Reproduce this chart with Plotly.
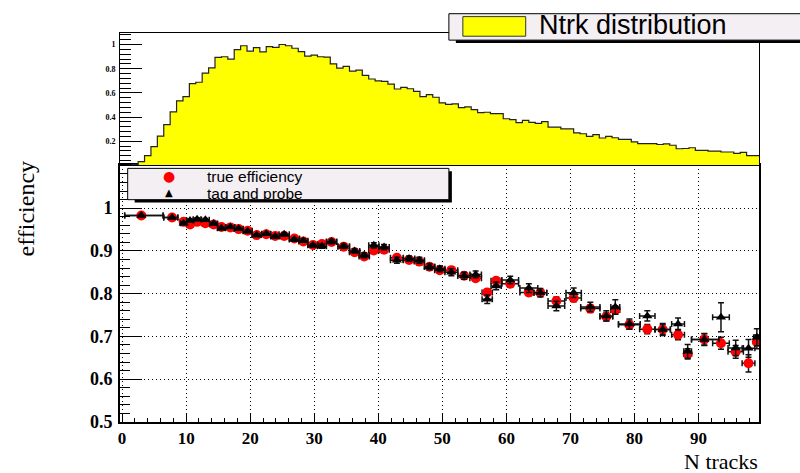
import plotly.graph_objects as go

# ---------------- data ----------------
hist_bins = list(range(1, 100))
hist_vals = [0.0, 0.005, 0.032, 0.081, 0.156, 0.243, 0.337, 0.443, 0.534, 0.569,
             0.677, 0.688, 0.764, 0.807, 0.893, 0.899, 0.880, 0.958, 0.990, 0.945,
             0.974, 0.939, 0.982, 0.977, 1.000, 0.990, 0.969, 0.942, 0.904, 0.912,
             0.899, 0.896, 0.840, 0.804, 0.820, 0.780, 0.788, 0.745, 0.715, 0.699,
             0.696, 0.672, 0.632, 0.645, 0.634, 0.613, 0.569, 0.585, 0.564, 0.518,
             0.505, 0.509, 0.478, 0.484, 0.462, 0.437, 0.440, 0.429, 0.429, 0.386,
             0.378, 0.354, 0.373, 0.356, 0.348, 0.362, 0.316, 0.316, 0.302, 0.302,
             0.270, 0.262, 0.240, 0.254, 0.227, 0.240, 0.229, 0.216, 0.216, 0.194,
             0.181, 0.181, 0.181, 0.173, 0.178, 0.167, 0.138, 0.140, 0.146, 0.124,
             0.124, 0.119, 0.119, 0.111, 0.111, 0.100, 0.108, 0.081, 0.081]

n_tracks = [3.0, 7.8, 9.6, 10.6, 11.7, 13.0, 14.3, 15.5, 16.9, 18.2,
            19.6, 21.0, 22.5, 23.9, 25.3, 26.9, 28.3, 29.8, 31.2, 32.7,
            34.6, 36.3, 37.8, 39.3, 40.9, 42.9, 44.8, 46.4, 48.0, 49.6,
            51.4, 53.4, 55.2, 57.0, 58.4, 60.6, 63.5, 65.3, 67.8, 70.5,
            73.1, 75.6, 77.0, 79.2, 82.0, 84.4, 86.8, 88.3, 90.9, 93.5,
            95.8, 97.8, 99.1]
n_err_lo = [2.6, 1.3, 0.5, 0.5, 0.6, 0.6, 0.6, 0.6, 0.7, 0.7,
            0.7, 0.7, 0.7, 0.7, 0.8, 0.8, 0.7, 0.8, 0.7, 0.8,
            0.9, 0.8, 0.8, 0.8, 0.8, 1.0, 0.9, 0.8, 0.8, 0.8,
            1.0, 1.0, 0.9, 0.8, 0.8, 1.3, 1.4, 1.0, 1.3, 1.2,
            1.5, 1.0, 0.7, 1.7, 1.2, 1.2, 1.0, 0.6, 2.0, 1.3,
            1.2, 1.0, 0.5]
n_err_hi = [3.4, 0.9, 0.5, 0.5, 0.6, 0.6, 0.6, 0.6, 0.7, 0.7,
            0.7, 0.7, 0.7, 0.7, 0.8, 0.8, 0.7, 0.8, 0.7, 0.8,
            0.9, 0.8, 0.8, 0.8, 0.8, 1.0, 0.9, 0.8, 0.8, 0.8,
            1.0, 1.0, 0.9, 0.8, 0.8, 1.3, 1.4, 1.0, 1.3, 1.2,
            1.5, 1.0, 0.7, 1.7, 1.2, 1.2, 1.0, 0.6, 2.3, 1.3,
            1.2, 1.0, 0.4]

true_eff = [0.983, 0.978, 0.968, 0.962, 0.968, 0.965, 0.962, 0.956, 0.955, 0.951,
            0.947, 0.937, 0.939, 0.935, 0.935, 0.929, 0.922, 0.914, 0.916, 0.921,
            0.910, 0.897, 0.887, 0.901, 0.903, 0.884, 0.879, 0.875, 0.863, 0.855,
            0.855, 0.842, 0.836, 0.803, 0.830, 0.823, 0.803, 0.802, 0.783, 0.790,
            0.765, 0.746, 0.762, 0.727, 0.717, 0.716, 0.704, 0.659, 0.693, 0.684,
            0.664, 0.637, 0.687]
true_err = [0.002, 0.002, 0.002, 0.002, 0.002, 0.002, 0.002, 0.002, 0.002, 0.002,
            0.002, 0.002, 0.002, 0.003, 0.003, 0.003, 0.003, 0.003, 0.004, 0.004,
            0.004, 0.004, 0.004, 0.005, 0.005, 0.005, 0.005, 0.005, 0.006, 0.006,
            0.006, 0.006, 0.007, 0.007, 0.007, 0.008, 0.008, 0.008, 0.009, 0.009,
            0.009, 0.010, 0.010, 0.010, 0.011, 0.011, 0.012, 0.012, 0.013, 0.014,
            0.015, 0.020, 0.016]

tp_eff = [0.983, 0.978, 0.965, 0.971, 0.974, 0.973, 0.964, 0.953, 0.956, 0.952,
          0.946, 0.937, 0.940, 0.934, 0.939, 0.927, 0.924, 0.913, 0.911, 0.922,
          0.911, 0.900, 0.890, 0.913, 0.909, 0.878, 0.882, 0.878, 0.863, 0.858,
          0.850, 0.842, 0.845, 0.787, 0.818, 0.832, 0.813, 0.802, 0.771, 0.802,
          0.769, 0.748, 0.769, 0.729, 0.748, 0.716, 0.729, 0.665, 0.693, 0.745,
          0.673, 0.672, 0.698]
tp_err = [0.002, 0.002, 0.003, 0.003, 0.003, 0.003, 0.003, 0.003, 0.003, 0.003,
          0.003, 0.003, 0.003, 0.003, 0.004, 0.004, 0.004, 0.004, 0.005, 0.005,
          0.005, 0.005, 0.006, 0.006, 0.006, 0.007, 0.006, 0.007, 0.007, 0.007,
          0.008, 0.008, 0.008, 0.010, 0.009, 0.009, 0.010, 0.010, 0.011, 0.011,
          0.011, 0.012, 0.017, 0.012, 0.012, 0.014, 0.014, 0.016, 0.014, 0.034,
          0.018, 0.021, 0.020]

lower_yticks = [0.5, 0.6, 0.7, 0.8, 0.9, 1.0]
lower_yticktext = ["0.5", "0.6", "0.7", "0.8", "0.9", "1"]
hist_yticks = [0.2, 0.4, 0.6, 0.8, 1.0]
hist_yticktext = ["0.2", "0.4", "0.6", "0.8", "1"]

# ---------------- layout helpers ----------------
W, H = 800, 473
def px(x):
    return x / W
def py(y):
    return 1 - y / H

X_DOM = [px(118.5), px(759.3)]
X_RANGE = [-0.3, 99.5]
SERIF = "Liberation Serif"
SANS = "Liberation Sans"
GRID_DASH = "1px,3px"

# histogram step outline built from bin centres
edges = [b - 0.5 for b in hist_bins] + [hist_bins[-1] + 0.5]
step_vals = hist_vals + [hist_vals[-1]]

fig = go.Figure()

fig.add_trace(go.Scatter(
    x=edges, y=step_vals, xaxis="x2", yaxis="y2",
    mode="lines", line=dict(shape="hv", color="#222222", width=1.2),
    fill="tozeroy", fillcolor="#ffff00", showlegend=False, hoverinfo="skip"))

fig.add_trace(go.Scatter(
    x=n_tracks, y=true_eff, mode="markers", name="true efficiency",
    marker=dict(symbol="circle", size=10, color="#ff0000"),
    error_x=dict(type="data", symmetric=False, array=n_err_hi, arrayminus=n_err_lo,
                 color="#111111", thickness=1.5, width=3),
    error_y=dict(type="data", array=true_err, color="#111111", thickness=1.5, width=3),
    showlegend=False))

fig.add_trace(go.Scatter(
    x=n_tracks, y=tp_eff, mode="markers", name="tag and probe",
    marker=dict(symbol="triangle-up", size=9, color="#000000"),
    error_x=dict(type="data", symmetric=False, array=n_err_hi, arrayminus=n_err_lo,
                 color="#111111", thickness=1.5, width=3),
    error_y=dict(type="data", array=tp_err, color="#111111", thickness=1.5, width=3),
    showlegend=False))

shapes = [
    # lower legend shadow + box
    dict(type="rect", xref="paper", yref="paper", x0=px(133), x1=px(451), y0=py(207), y1=py(175),
         fillcolor="black", line=dict(width=0), layer="above"),
    dict(type="rect", xref="paper", yref="paper", x0=px(126), x1=px(448), y0=py(204), y1=py(172),
         fillcolor="#f3eff3", line=dict(color="black", width=1), layer="above"),
    # top legend shadow + box
    dict(type="rect", xref="paper", yref="paper", x0=px(455), x1=px(806), y0=py(44), y1=py(20),
         fillcolor="black", line=dict(width=0), layer="above"),
    dict(type="rect", xref="paper", yref="paper", x0=px(448), x1=px(806), y0=py(41), y1=py(14),
         fillcolor="#f3eff3", line=dict(color="black", width=1), layer="above"),
    dict(type="rect", xref="paper", yref="paper", x0=px(462), x1=px(525), y0=py(37), y1=py(17),
         fillcolor="#ffff00", line=dict(color="#333333", width=1), layer="above"),
]

annotations = [
    dict(text="●", x=px(167), y=py(180), xref="paper", yref="paper", showarrow=False,
         font=dict(family="DejaVu Sans", size=14, color="#ff0000"), xanchor="center", yanchor="middle"),
    dict(text="▲", x=px(167), y=py(197), xref="paper", yref="paper", showarrow=False,
         font=dict(family="DejaVu Sans", size=10, color="#000000"), xanchor="center", yanchor="middle"),
    dict(text="true efficiency", x=px(205), y=py(180), xref="paper", yref="paper", showarrow=False,
         font=dict(family=SANS, size=15.5, color="black"), xanchor="left", yanchor="middle",
         borderpad=0),
    dict(text="tag and probe", x=px(205), y=py(198), xref="paper", yref="paper", showarrow=False,
         font=dict(family=SANS, size=15.5, color="black"), xanchor="left", yanchor="middle",
         borderpad=0),
    dict(text="Ntrk distribution", x=px(536), y=py(26), xref="paper", yref="paper", showarrow=False,
         font=dict(family=SANS, size=27, color="black"), xanchor="left", yanchor="middle"),
    dict(text="N tracks", x=px(759), y=py(474), xref="paper", yref="paper", showarrow=False,
         font=dict(family=SERIF, size=22, color="black"), xanchor="right", yanchor="bottom",
         yshift=-11, borderpad=0),
    dict(text="efficiency", x=px(25), y=py(213), xref="paper", yref="paper", showarrow=False,
         textangle=-90, font=dict(family=SERIF, size=24, color="black"),
         xanchor="center", yanchor="middle"),
]

fig.update_layout(
    width=W, height=H, margin=dict(l=0, r=0, t=0, b=0),
    paper_bgcolor="white", plot_bgcolor="rgba(0,0,0,0)",
    showlegend=False, shapes=shapes, annotations=annotations,
    xaxis=dict(domain=X_DOM, range=X_RANGE, anchor="y",
               tickmode="linear", tick0=0, dtick=10,
               ticks="inside", ticklen=8, tickwidth=1, tickcolor="black",
               minor=dict(tickmode="linear", tick0=0, dtick=2, ticks="inside", ticklen=4,
                          tickcolor="black", showgrid=False),
               showline=True, linewidth=2, linecolor="black", mirror=True,
               showgrid=True, gridcolor="black", griddash=GRID_DASH, gridwidth=1,
               zeroline=False,
               tickfont=dict(family=SERIF, size=17, color="black", weight="bold")),
    yaxis=dict(domain=[py(431), py(169)], range=[0.5, 1.1], anchor="x",
               tickmode="array", tickvals=lower_yticks, ticktext=lower_yticktext,
               ticks="inside", ticklen=22, tickwidth=1, tickcolor="black",
               minor=dict(tickmode="linear", tick0=0.5, dtick=0.02, ticks="inside", ticklen=10,
                          tickcolor="black", showgrid=False),
               showline=True, linewidth=2, linecolor="black", mirror=True,
               showgrid=True, gridcolor="black", griddash=GRID_DASH, gridwidth=1,
               zeroline=False, ticklabelstandoff=2,
               tickfont=dict(family=SERIF, size=18, color="black", weight="bold")),
    xaxis2=dict(domain=X_DOM, range=X_RANGE, anchor="y2",
                showticklabels=False, ticks="", showgrid=False, zeroline=False,
                showline=True, linewidth=1, linecolor="black", mirror=True),
    yaxis2=dict(domain=[py(169), py(34)], range=[0, 1.093], anchor="x2",
                tickmode="array", tickvals=hist_yticks, ticktext=hist_yticktext,
                ticks="inside", ticklen=22, tickwidth=1, tickcolor="black",
                minor=dict(tickmode="linear", tick0=0, dtick=0.04, ticks="inside", ticklen=11,
                           tickcolor="black", showgrid=False),
                showline=True, linewidth=1, linecolor="black", mirror=True,
                showgrid=False, zeroline=False, ticklabelstandoff=2,
                tickfont=dict(family=SERIF, size=8, color="black", weight="bold")),
)

fig.write_html("out.html")
